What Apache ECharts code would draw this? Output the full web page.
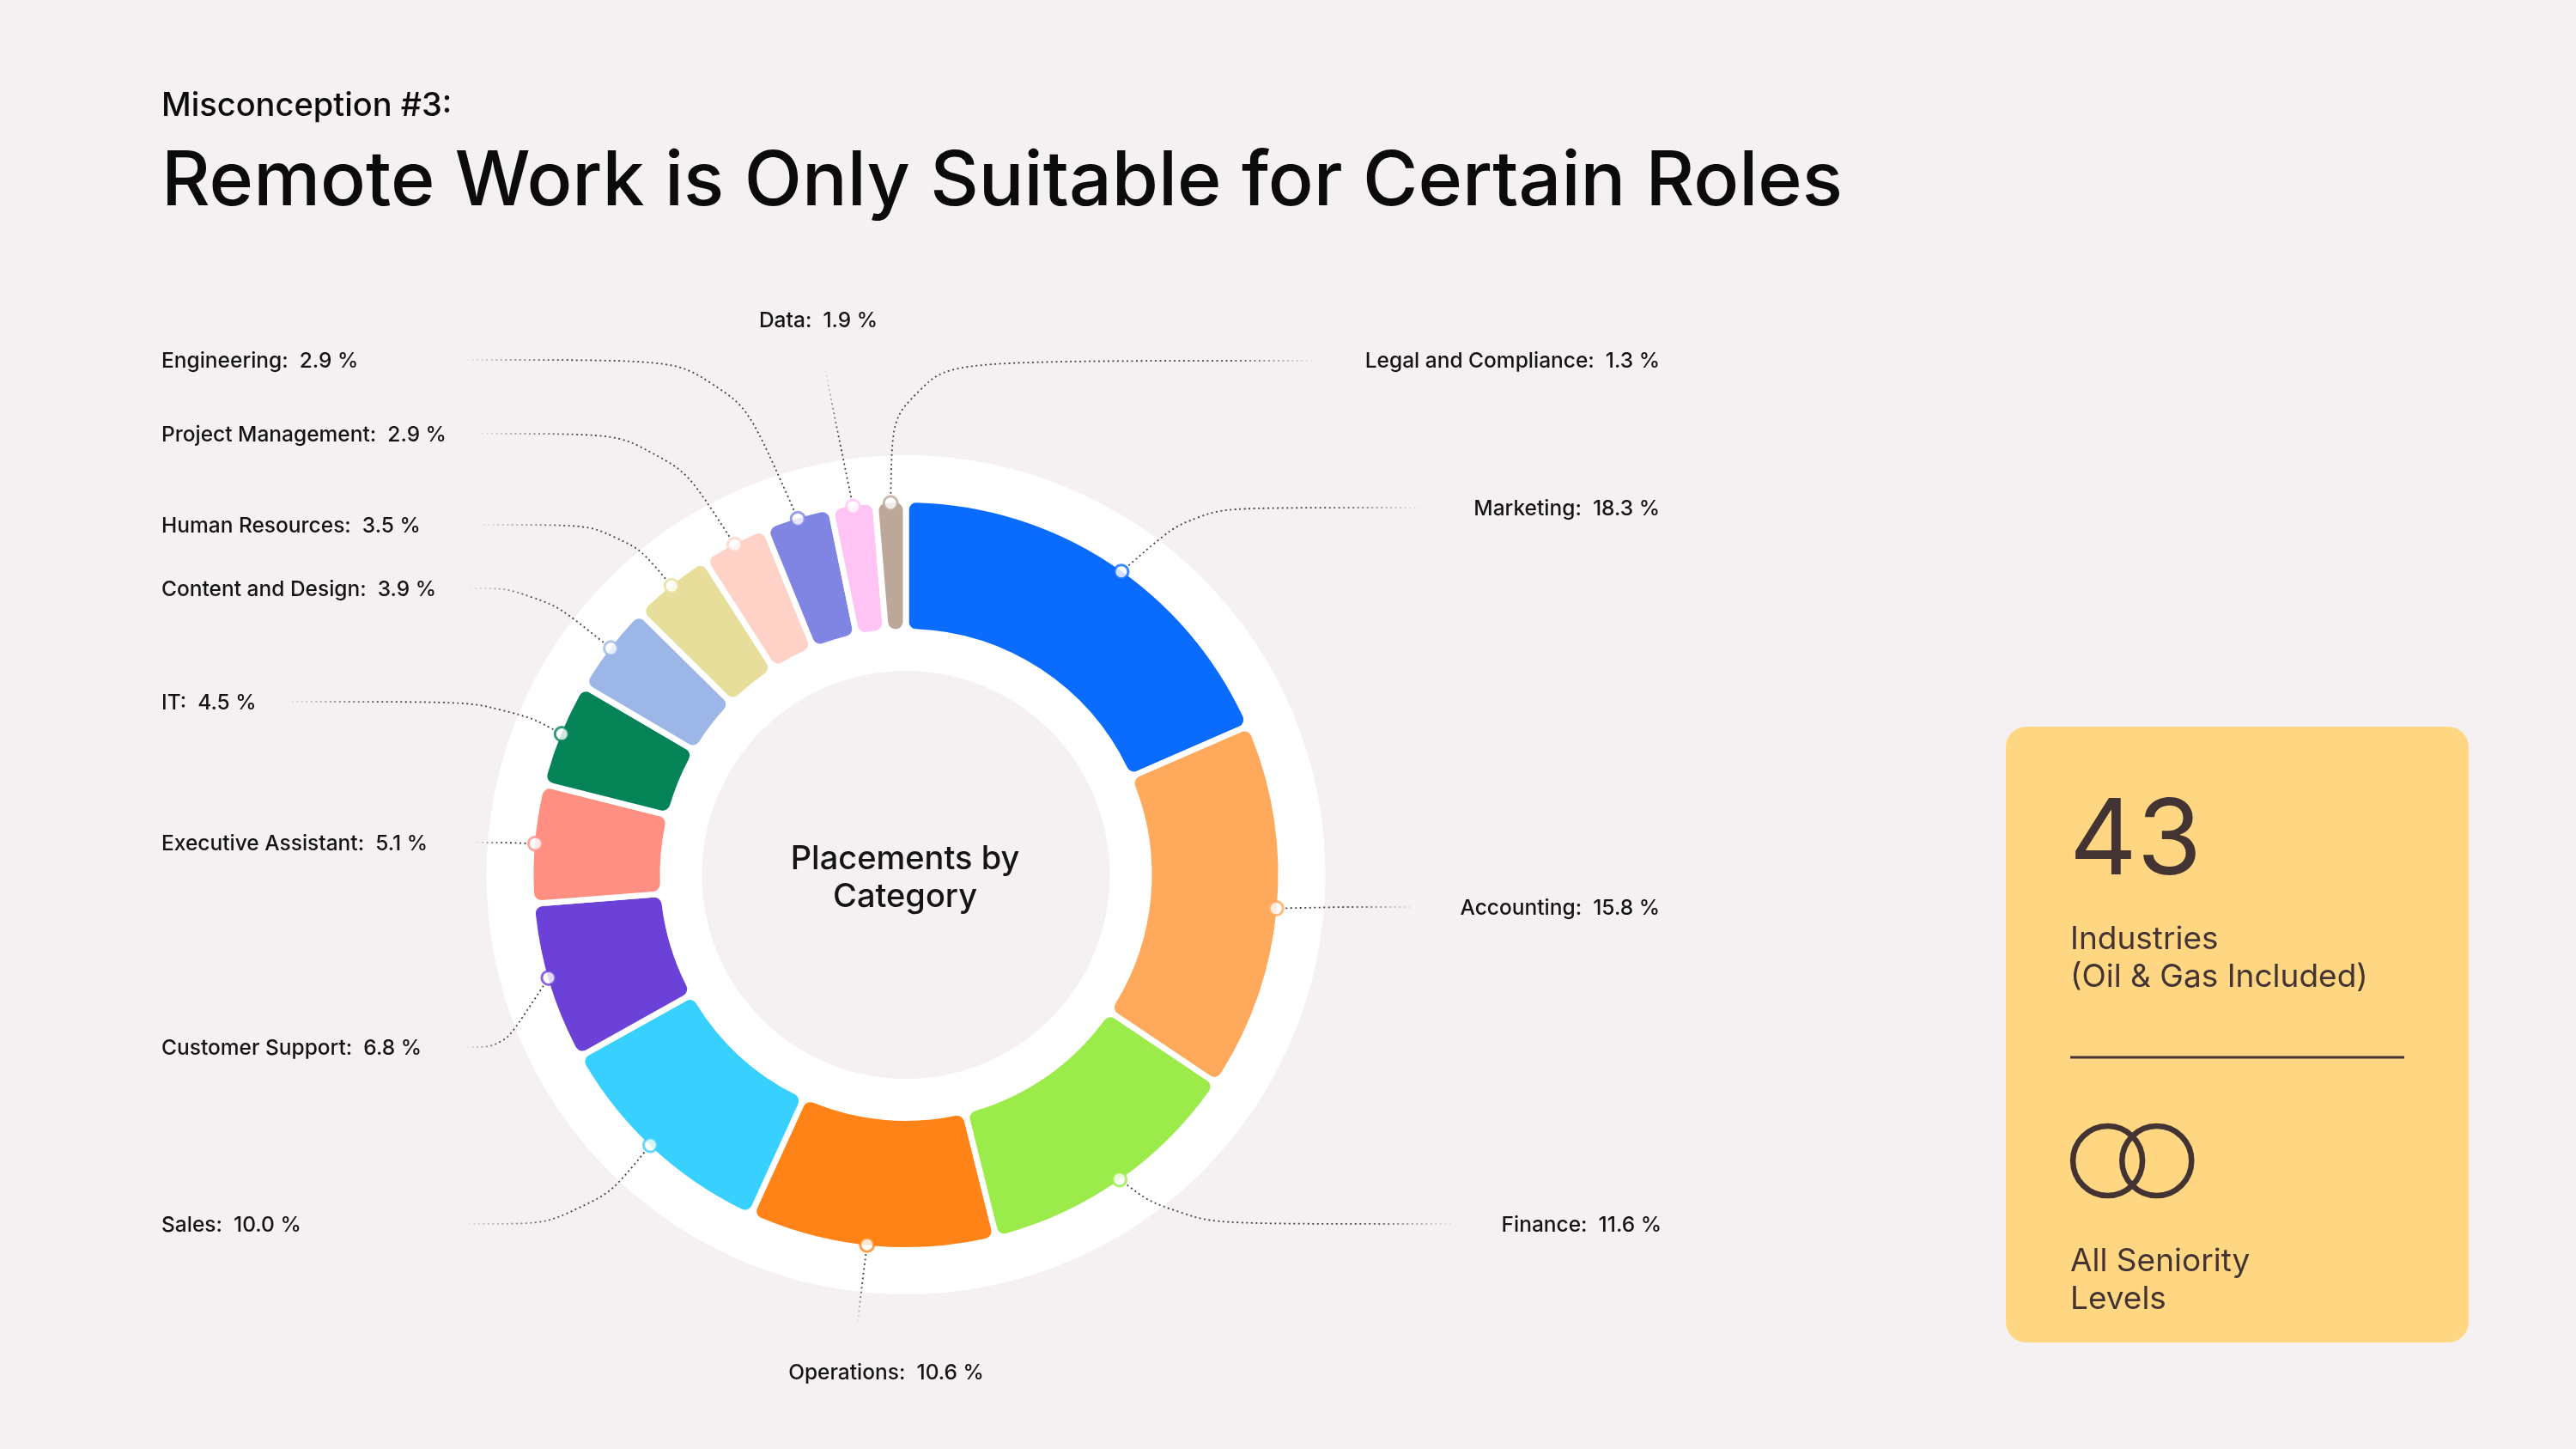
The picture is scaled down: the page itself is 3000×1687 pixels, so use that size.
<!DOCTYPE html>
<html><head><meta charset="utf-8">
<style>html,body{margin:0;padding:0;background:#F5F1F2}#c{width:3000px;height:1687px}</style>
<script src="https://cdn.jsdelivr.net/npm/echarts@6/dist/echarts.min.js"></script>
</head><body><div id="c"></div>
<script>
const categories = ['Marketing','Accounting','Finance','Operations','Sales','Customer Support','Executive Assistant','IT','Content and Design','Human Resources','Project Management','Engineering','Data','Legal and Compliance'];
const seriesValues = [18.3,15.8,11.6,10.6,10.0,6.8,5.1,4.5,3.9,3.5,2.9,2.9,1.9,1.3];
const sliceColors = ['#0A6CFF','#FFA95C','#9BEC4A','#FF8317','#38D1FF','#6C41D8','#FF8F82','#038356','#9DB6E8','#E8DE9C','#FFD2C8','#8084E3','#FFC4F3','#BDA79A'];
const headline = 'Misconception #3:';
const chartTitle = 'Remote Work is Only Suitable for Certain Roles';
const centerText = 'Placements by\nCategory';
const cardNumber = '43';
const cardTextTop = 'Industries\n(Oil & Gas Included)';
const cardTextBottom = 'All Seniority\nLevels';

// annotation layout (label anchor, elbow, far end of the leader), same order as categories
const labelX = [1933,1933,1935,1032,188,188,188,188,188,188,188,188,953,1933];
const labelY = [593,1058,1427,1599,1427,1221,983,819,687,613,507,421,374,421];
const labelAlign = ['right','right','right','center','left','left','left','left','left','left','left','left','center','right'];
const kneeX = [1392,1565,1372,1004,682,586,588,585,624,722,772,847,977,1040];
const kneeY = [591,1056,1425,1495,1425,1219,981,817,685,611,505,419,510,420];
const endX = [1653,1645,1693,999,541,543,555,336,548,558,558,543,961,1531];
const endY = [591,1056,1425,1539,1425,1219,981,817,685,611,505,419,430,420];
const kneeSmooth = [0.3,0,0.5,0,0.4,0.35,0,0.5,0.45,0.4,0.35,0.3,0,0.4];
// the marker sits a little off the exact slice middle on a few slices (in value units)
const markerShift = [0.6,0,0,0.2,0.2,0.2,0,0,0,0,0,0,0,0];

const CX = 1055, CY = 1018.5, MARK_R = 433;
const FONT = 'Inter';
const INK = '#443333';
const total = seriesValues.reduce((a,b)=>a+b,0);
let run = 0;
const midValues = seriesValues.map((v,i)=>{const m=run+v/2+markerShift[i]; run+=v; return m;});
function markerPoint(i){
  const a=midValues[i]/total*2*Math.PI;
  return [CX+MARK_R*Math.sin(a),CY-MARK_R*Math.cos(a)];
}

function leaderGradient(i){
  const x1=endX[i],y1=endY[i],dx=kneeX[i]-x1,dy=kneeY[i]-y1,len=Math.hypot(dx,dy)||1;
  const reach=Math.min(len,110);
  return new echarts.graphic.LinearGradient(x1,y1,x1+dx/len*reach,y1+dy/len*reach,[
    {offset:0,color:'rgba(72,66,70,0.05)'},{offset:1,color:'rgba(72,66,70,1)'}],true);
}

const chart = echarts.init(document.getElementById('c'),null,{renderer:'canvas',width:3000,height:1687});
chart.setOption({
  animation:false,
  backgroundColor:'#F5F1F2',
  polar:{center:[CX,CY],radius:MARK_R},
  angleAxis:{type:'value',min:0,max:total,startAngle:90,clockwise:true,show:false},
  radiusAxis:{type:'value',min:0,max:1,show:false},
  title:[
    {text:headline,left:188,top:105,padding:0,textStyle:{fontFamily:FONT,fontSize:38,fontWeight:500,color:'#0b0b0b'}},
    {text:chartTitle,left:188,top:169,padding:0,textStyle:{fontFamily:FONT,fontSize:87.7,fontWeight:500,color:'#0b0b0b'}},
    {text:centerText,left:CX-1,top:CY-40,padding:0,textAlign:'center',textStyle:{fontFamily:FONT,fontSize:38,fontWeight:500,lineHeight:44,color:'#141414'}}
  ],
  graphic:[
    {type:'rect',z:1,shape:{x:2336,y:846,width:539,height:717,r:24},style:{fill:'#FFD782'}},
    {type:'text',z:2,x:2410,y:981,style:{text:cardNumber,font:'400 122px '+FONT,fill:INK,verticalAlign:'middle',align:'left'}},
    {type:'text',z:2,x:2411,top:1072,style:{text:cardTextTop,font:'400 37px '+FONT,lineHeight:44,fill:INK}},
    {type:'line',z:2,shape:{x1:2411,y1:1231,x2:2800,y2:1231},style:{stroke:INK,lineWidth:3}},
    {type:'circle',z:2,shape:{cx:2454.6,cy:1351.5,r:40.5},style:{fill:'none',stroke:INK,lineWidth:6.5}},
    {type:'circle',z:2,shape:{cx:2511.8,cy:1351.5,r:40.5},style:{fill:'none',stroke:INK,lineWidth:6.5}},
    {type:'text',z:2,x:2411,top:1447,style:{text:cardTextBottom,font:'400 37px '+FONT,lineHeight:44,fill:INK}}
  ],
  series:[
    {type:'pie',z:1,silent:true,center:[CX,CY],radius:[237.5,488.5],startAngle:90,
      label:{show:false},labelLine:{show:false},emphasis:{disabled:true},
      itemStyle:{color:'#ffffff'},data:[{value:1,name:'ring'}]},
    {type:'pie',z:2,silent:true,center:[CX,CY],radius:[283,437],startAngle:90,clockwise:true,
      avoidLabelOverlap:false,emphasis:{disabled:true},minShowLabelAngle:0,
      itemStyle:{borderColor:'#ffffff',borderWidth:7,borderRadius:12},
      label:{show:true,position:'outside',color:'#141414',fontFamily:FONT,fontSize:24.5,fontWeight:500,
        formatter:p=>p.name+':  '+p.value.toFixed(1)+' %'},
      labelLine:{show:true,length:30,length2:30,lineStyle:{width:1.8,type:[2,3.5]}},
      labelLayout:p=>{
        const i=p.dataIndex;
        return {x:labelX[i],y:labelY[i],align:labelAlign[i],verticalAlign:'middle',
          labelLinePoints:[markerPoint(i),[kneeX[i],kneeY[i]],[endX[i],endY[i]]]};
      },
      data:categories.map((n,i)=>({name:n,value:seriesValues[i],itemStyle:{color:sliceColors[i]},
        labelLine:{smooth:kneeSmooth[i],lineStyle:{color:leaderGradient(i)}}}))},
    {type:'scatter',coordinateSystem:'polar',z:6,silent:true,symbol:'circle',symbolSize:16,
      data:midValues.map((m,i)=>({value:[1,m],itemStyle:{color:'#ffffff',borderColor:sliceColors[i],borderWidth:3}}))}
  ]
});
</script></body></html>
